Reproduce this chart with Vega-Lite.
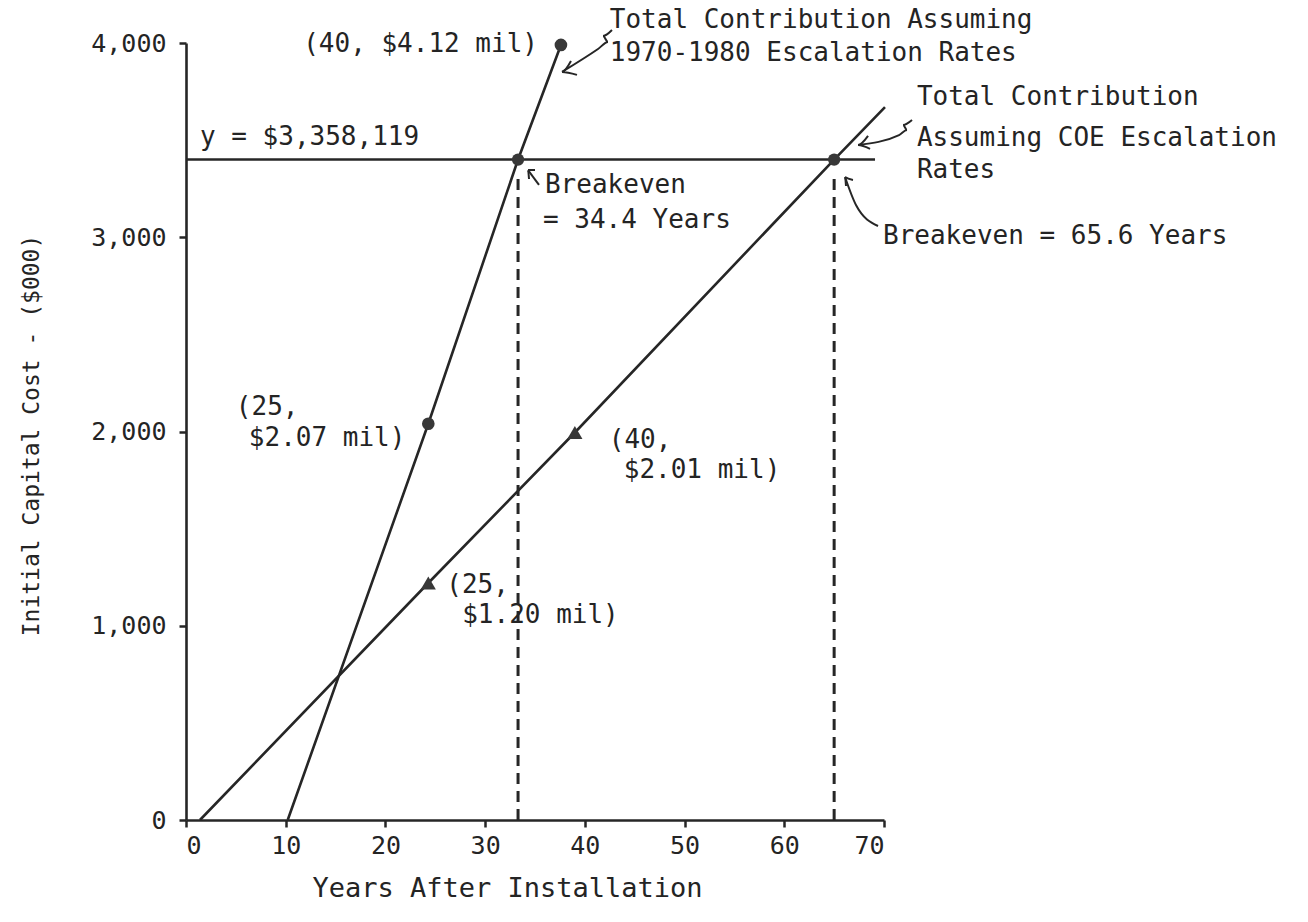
{
  "$schema": "https://vega.github.io/schema/vega-lite/v6.json",
  "autosize": {"type": "none"},
  "width": 698,
  "height": 777,
  "padding": {"left": 186, "top": 43, "right": 424, "bottom": 102},
  "background": "white",
  "config": {
    "view": {"stroke": null},
    "text": {"font": "DejaVu Sans Mono", "fontSize": 26, "color": "#242424"}
  },
  "datasets": {
    "lines": [
      {"s": "A", "x": 10.2, "y": 0},
      {"s": "A", "x": 24.3, "y": 2040},
      {"s": "A", "x": 33.3, "y": 3400},
      {"s": "A", "x": 37.6, "y": 3990},
      {"s": "B", "x": 1.4, "y": 0},
      {"s": "B", "x": 24.3, "y": 1220},
      {"s": "B", "x": 39.0, "y": 1995},
      {"s": "B", "x": 65.0, "y": 3400},
      {"s": "B", "x": 70.1, "y": 3670},
      {"s": "H", "x": 0, "y": 3400},
      {"s": "H", "x": 69.1, "y": 3400}
    ],
    "dashed": [
      {"s": "D1", "x": 33.3, "y": 0},
      {"s": "D1", "x": 33.3, "y": 3330},
      {"s": "D2", "x": 65.0, "y": 0},
      {"s": "D2", "x": 65.0, "y": 3330}
    ],
    "circles": [
      {"x": 24.3, "y": 2040},
      {"x": 37.6, "y": 3990}
    ],
    "triangles": [
      {"x": 24.3, "y": 1220},
      {"x": 39.0, "y": 1995}
    ],
    "breakeven": [
      {"x": 33.3, "y": 3400},
      {"x": 65.0, "y": 3400}
    ],
    "arrows": [
      {"g": "a1", "o": 1, "x": 42.72, "y": 4067},
      {"g": "a1", "o": 2, "x": 41.82, "y": 4036},
      {"g": "a1", "o": 3, "x": 42.32, "y": 4005},
      {"g": "a1", "o": 4, "x": 41.32, "y": 3969},
      {"g": "a1", "o": 5, "x": 37.71, "y": 3851},
      {"g": "a1h", "o": 1, "x": 38.61, "y": 3907},
      {"g": "a1h", "o": 2, "x": 37.71, "y": 3851},
      {"g": "a1h", "o": 3, "x": 39.21, "y": 3836},
      {"g": "a2", "o": 1, "x": 72.81, "y": 3604},
      {"g": "a2", "o": 2, "x": 71.91, "y": 3578},
      {"g": "a2", "o": 3, "x": 72.31, "y": 3552},
      {"g": "a2", "o": 4, "x": 71.51, "y": 3526},
      {"g": "a2", "o": 5, "x": 67.40, "y": 3475},
      {"g": "a2h", "o": 1, "x": 68.40, "y": 3522},
      {"g": "a2h", "o": 2, "x": 67.40, "y": 3475},
      {"g": "a2h", "o": 3, "x": 68.60, "y": 3455},
      {"g": "a3", "o": 1, "x": 34.30, "y": 3346},
      {"g": "a3", "o": 2, "x": 35.40, "y": 3270},
      {"g": "a3h", "o": 1, "x": 35.00, "y": 3346},
      {"g": "a3h", "o": 2, "x": 34.30, "y": 3346},
      {"g": "a3h", "o": 3, "x": 34.40, "y": 3300},
      {"g": "a4", "o": 1, "x": 66.09, "y": 3310},
      {"g": "a4", "o": 2, "x": 67.19, "y": 3166},
      {"g": "a4", "o": 3, "x": 69.40, "y": 3058},
      {"g": "a4h", "o": 1, "x": 66.89, "y": 3295},
      {"g": "a4h", "o": 2, "x": 66.09, "y": 3310},
      {"g": "a4h", "o": 3, "x": 66.19, "y": 3264}
    ],
    "labelsL": [
      {"x": 42.5, "y": 4118, "t": "Total Contribution Assuming"},
      {"x": 42.5, "y": 3948, "t": "1970-1980 Escalation Rates"},
      {"x": 1.4, "y": 3516, "t": "y = $3,358,119"},
      {"x": 36.0, "y": 3269, "t": "Breakeven"},
      {"x": 35.8, "y": 3089, "t": "= 34.4 Years"},
      {"x": 73.3, "y": 3722, "t": "Total Contribution"},
      {"x": 73.3, "y": 3511, "t": "Assuming COE Escalation"},
      {"x": 73.3, "y": 3346, "t": "Rates"},
      {"x": 69.9, "y": 3006, "t": "Breakeven = 65.6 Years"},
      {"x": 5.0, "y": 2126, "t": "(25,"},
      {"x": 6.3, "y": 1967, "t": "$2.07 mil)"},
      {"x": 42.4, "y": 1956, "t": "(40,"},
      {"x": 43.9, "y": 1802, "t": "$2.01 mil)"},
      {"x": 26.1, "y": 1210, "t": "(25,"},
      {"x": 27.7, "y": 1055, "t": "$1.20 mil)"}
    ],
    "labelsR": [
      {"x": 35.3, "y": 3995, "t": "(40, $4.12 mil)"}
    ]
  },
  "layer": [
    {
      "data": {"name": "lines"},
      "mark": {"type": "line", "color": "#262626", "strokeWidth": 2.6},
      "encoding": {
        "x": {"field": "x", "type": "quantitative", "scale": {"domain": [0, 70], "nice": false},
          "axis": {"values": [0, 10, 20, 30, 40, 50, 60, 70], "grid": false, "tickSize": 7, "tickWidth": 2.5,
            "domainWidth": 2.6, "domainColor": "#262626", "tickColor": "#262626",
            "labelFont": "DejaVu Sans Mono", "labelFontSize": 25, "labelColor": "#242424", "labelPadding": 6,
            "title": "Years After Installation", "titleFont": "DejaVu Sans Mono", "titleFontSize": 27,
            "titleFontWeight": "normal", "titleColor": "#242424", "titlePadding": 17, "titleX": 321, "titleAlign": "center"}},
        "y": {"field": "y", "type": "quantitative", "scale": {"domain": [0, 4000], "nice": false},
          "axis": {"values": [0, 1000, 2000, 3000, 4000], "format": ",.0f", "grid": false, "tickSize": 7, "tickWidth": 2.5,
            "domainWidth": 2.6, "domainColor": "#262626", "tickColor": "#262626",
            "labelFont": "DejaVu Sans Mono", "labelFontSize": 25, "labelColor": "#242424", "labelPadding": 13,
            "title": "Initial Capital Cost - ($000)", "titleFont": "DejaVu Sans Mono", "titleFontSize": 23,
            "titleFontWeight": "normal", "titleColor": "#242424", "titleX": -155, "titleY": 392,
            "titleAngle": 270, "titleAlign": "center", "titleBaseline": "middle"}},
        "detail": {"field": "s", "type": "nominal"}
      }
    },
    {
      "data": {"name": "dashed"},
      "mark": {"type": "line", "color": "#262626", "strokeWidth": 3, "strokeDash": [11, 7]},
      "encoding": {
        "x": {"field": "x", "type": "quantitative"},
        "y": {"field": "y", "type": "quantitative"},
        "detail": {"field": "s", "type": "nominal"}
      }
    },
    {
      "data": {"name": "arrows"},
      "mark": {"type": "line", "color": "#262626", "strokeWidth": 2, "interpolate": "monotone"},
      "encoding": {
        "x": {"field": "x", "type": "quantitative"},
        "y": {"field": "y", "type": "quantitative"},
        "detail": {"field": "g", "type": "nominal"},
        "order": {"field": "o", "type": "quantitative"}
      }
    },
    {
      "data": {"name": "circles"},
      "mark": {"type": "point", "shape": "circle", "filled": true, "size": 160, "color": "#383838", "opacity": 1},
      "encoding": {
        "x": {"field": "x", "type": "quantitative"},
        "y": {"field": "y", "type": "quantitative"}
      }
    },
    {
      "data": {"name": "triangles"},
      "mark": {"type": "point", "shape": "triangle-up", "filled": true, "size": 230, "color": "#383838", "opacity": 1},
      "encoding": {
        "x": {"field": "x", "type": "quantitative"},
        "y": {"field": "y", "type": "quantitative"}
      }
    },
    {
      "data": {"name": "breakeven"},
      "mark": {"type": "point", "shape": "circle", "filled": true, "size": 150, "color": "#383838", "opacity": 1},
      "encoding": {
        "x": {"field": "x", "type": "quantitative"},
        "y": {"field": "y", "type": "quantitative"}
      }
    },
    {
      "data": {"name": "labelsL"},
      "mark": {"type": "text", "align": "left", "baseline": "middle"},
      "encoding": {
        "x": {"field": "x", "type": "quantitative"},
        "y": {"field": "y", "type": "quantitative"},
        "text": {"field": "t", "type": "nominal"}
      }
    },
    {
      "data": {"name": "labelsR"},
      "mark": {"type": "text", "align": "right", "baseline": "middle"},
      "encoding": {
        "x": {"field": "x", "type": "quantitative"},
        "y": {"field": "y", "type": "quantitative"},
        "text": {"field": "t", "type": "nominal"}
      }
    }
  ]
}
